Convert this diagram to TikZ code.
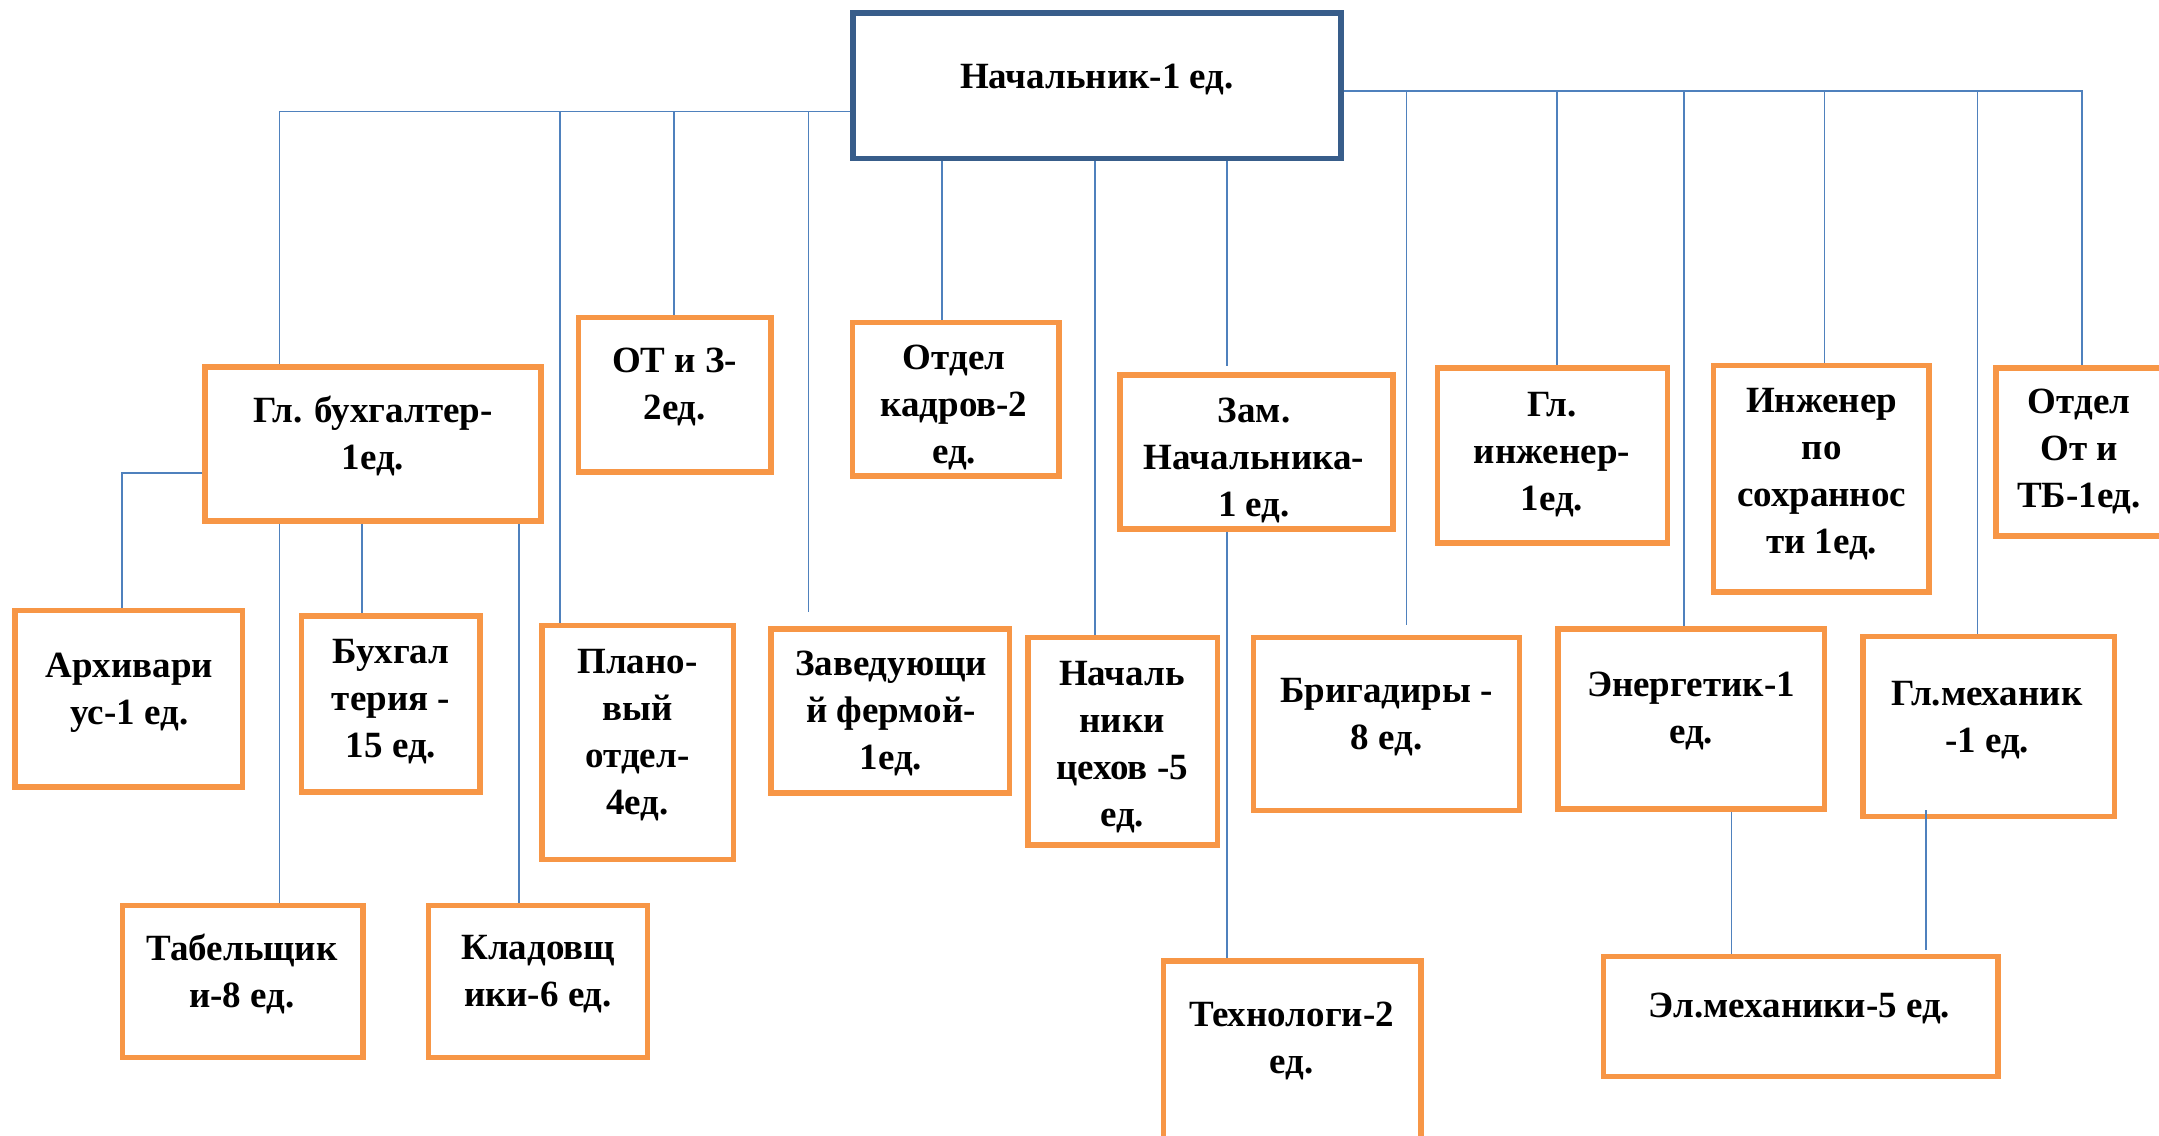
\documentclass[tikz,border=0pt]{standalone}
\usepackage{fontspec}
\setmainfont{Liberation Serif}
\usetikzlibrary{fit}
\definecolor{boxorange}{RGB}{247,150,70}
\definecolor{lineblue}{RGB}{79,129,189}
\definecolor{headblue}{RGB}{56,93,138}
\tikzset{
  unit/.style={draw=boxorange, line width=3.8pt, inner sep=0pt},
  headbox/.style={draw=headblue, line width=4pt, inner sep=0pt},
  lbl/.style={align=center, inner sep=0pt, yshift=-2.5pt, font=\bfseries\fontsize{27.75}{35.3}\selectfont},
  link/.style={draw=lineblue, line width=1.3pt},
}

\begin{document}
\begin{tikzpicture}[x=0.75pt,y=0.75pt,yscale=-1,xscale=1]
            \useasboundingbox (0,0) rectangle (2159,1135);
            \clip (0,0) rectangle (2159,1135);

            %Shape: Rectangle (head)
            \node [headbox, fit={(853,13) (1341,158.5)}] (nach) {};
            %Shape: Rectangle (first row)
            \node [unit, fit={(205,367) (541,521)}] (buh) {};
            \node [unit, fit={(578.5,317.5) (771,472)}] (otz) {};
            \node [unit, fit={(852.6,322.5) (1059,476)}] (kadr) {};
            \node [unit, fit={(1120,375) (1393,529)}] (zam) {};
            \node [unit, fit={(1437.4,368) (1667.5,543)}] (inzh) {};
            \node [unit, fit={(1713.6,365.5) (1929,592)}] (sohr) {};
            \node [unit, fit={(1996,368) (2175,536)}] (otb) {};
            %Shape: Rectangle (second row)
            \node [unit, fit={(15,610.5) (242.4,787)}] (arh) {};
            \node [unit, fit={(301.7,616) (480,792)}] (bux) {};
            \node [unit, fit={(542,625.7) (733.5,859.5)}] (plan) {};
            \node [unit, fit={(771,629) (1009.6,793)}] (ferm) {};
            \node [unit, fit={(1028,637.7) (1217.7,845)}] (ceh) {};
            \node [unit, fit={(1253.5,637.7) (1519.4,810.5)}] (brig) {};
            \node [unit, fit={(1558,629) (1824.5,809)}] (energ) {};
            \node [unit, fit={(1863,636.6) (2114.4,816.6)}] (meh) {};
            %Shape: Rectangle (third row)
            \node [unit, fit={(122.6,905.7) (363,1057.7)}] (tab) {};
            \node [unit, fit={(428.4,905.7) (647.4,1057.7)}] (klad) {};
            \node [unit, fit={(1163.3,961) (1421,1150)}] (tehn) {};
            \node [unit, fit={(1603.4,956.6) (1998,1076.6)}] (elm) {};

            %Straight Lines (left bus)
            \coordinate (lbus) at (279.6,111.5);
            \coordinate (l1) at (560,111.5);
            \coordinate (l2) at (674,111.5);
            \coordinate (l3) at (808.5,111.5);
            \draw [link] (nach.west |- lbus) -- (lbus) -- (lbus |- buh.north);
            \draw [link] (l1) -- (l1 |- plan.north);
            \draw [link] (l2) -- (l2 |- otz.north);
            \draw [link, shorten >=10.5pt] (l3) -- (l3 |- ferm.north);
            %Straight Lines (under the head)
            \coordinate (c1) at (941.7,0);
            \coordinate (c2) at (1095,0);
            \coordinate (c3) at (1226.7,0);
            \draw [link] (c1 |- nach.south) -- (c1 |- kadr.north);
            \draw [link] (c2 |- nach.south) -- (c2 |- ceh.north);
            \draw [link, shorten >=5pt] (c3 |- nach.south) -- (c3 |- zam.north);
            %Straight Lines (right bus)
            \coordinate (rbus) at (2082,91);
            \coordinate (r1) at (1406.4,91);
            \coordinate (r2) at (1557,91);
            \coordinate (r3) at (1684,91);
            \coordinate (r4) at (1824.5,91);
            \coordinate (r5) at (1977.4,91);
            \draw [link] (nach.east |- rbus) -- (rbus) -- (rbus |- otb.north);
            \draw [link, shorten >=7.5pt] (r1) -- (r1 |- brig.north);
            \draw [link] (r2) -- (r2 |- inzh.north);
            \draw [link] (r3) -- (r3 |- energ.north);
            \draw [link] (r4) -- (r4 |- sohr.north);
            \draw [link] (r5) -- (r5 |- meh.north);
            %Straight Lines (lower levels)
            \coordinate (b0) at (122,472.7);
            \coordinate (b1) at (279.6,0);
            \coordinate (b2) at (362,0);
            \coordinate (b3) at (519,0);
            \draw [link] (buh.west |- b0) -- (b0) -- (b0 |- arh.north);
            \draw [link] (b1 |- buh.south) -- (b1 |- tab.north);
            \draw [link] (b2 |- buh.south) -- (b2 |- bux.north);
            \draw [link] (b3 |- buh.south) -- (b3 |- klad.north);
            \draw [link] (c3 |- zam.south) -- (c3 |- tehn.north);
            \coordinate (e1) at (1731.5,0);
            \coordinate (m1) at (1925.7,0);
            \draw [link] (e1 |- energ.south) -- (e1 |- elm.north);
            \draw [link, shorten <=-6.8pt, shorten >=3pt] (m1 |- meh.south) -- (m1 |- elm.north);

            % Text Node
            \node [lbl] (nach-t) at (1097,75.7) {Начальник-1 ед.};
            % Text Node
            \node [lbl] (buh-t) at (373,433) {Гл. бухгалтер-\\1ед.};
            % Text Node
            \node [lbl] (otz-t) at (674.7,384) {ОТ и З-\\2ед.};
            % Text Node
            \node [lbl] (kadr-t) at (954,404) {Отдел\\кадров-2\\ед.};
            % Text Node
            \node [lbl] (zam-t) at (1254,457) {Зам.\\Начальника-\\1 ед.};
            % Text Node
            \node [lbl] (inzh-t) at (1552,451) {Гл.\\инженер-\\1ед.};
            % Text Node
            \node [lbl] (sohr-t) at (1821.6,470.6) {Инженер\\по\\сохраннос\\ти 1ед.};
            % Text Node
            \node [lbl] (otb-t) at (2079,448) {Отдел\\От и\\ТБ-1ед.};
            % Text Node
            \node [lbl] (arh-t) at (129.4,689) {Архивари\\ус-1 ед.};
            % Text Node
            \node [lbl] (bux-t) at (391,698) {Бухгал\\терия -\\15 ед.};
            % Text Node
            \node [lbl] (plan-t) at (637.5,731.6) {Плано-\\вый\\отдел-\\4ед.};
            % Text Node
            \node [lbl] (ferm-t) at (891,710.5) {Заведующи\\й фермой-\\1ед.};
            % Text Node
            \node [lbl] (ceh-t) at (1122,744) {Началь\\ники\\цехов -5\\ед.};
            % Text Node
            \node [lbl] (brig-t) at (1386.5,714) {Бригадиры -\\8 ед.};
            % Text Node
            \node [lbl] (energ-t) at (1691,708) {Энергетик-1\\ед.};
            % Text Node
            \node [lbl] (meh-t) at (1987,716.7) {Гл.механик\\-1 ед.};
            % Text Node
            \node [lbl] (tab-t) at (242,970.7) {Табельщик\\и-8 ед.};
            % Text Node
            \node [lbl] (klad-t) at (538,971) {Кладовщ\\ики-6 ед.};
            % Text Node
            \node [lbl] (tehn-t) at (1291.5,1038) {Технологи-2\\ед.};
            % Text Node
            \node [lbl] (elm-t) at (1799.6,1005) {Эл.механики-5 ед.};

\end{tikzpicture}
\end{document}
